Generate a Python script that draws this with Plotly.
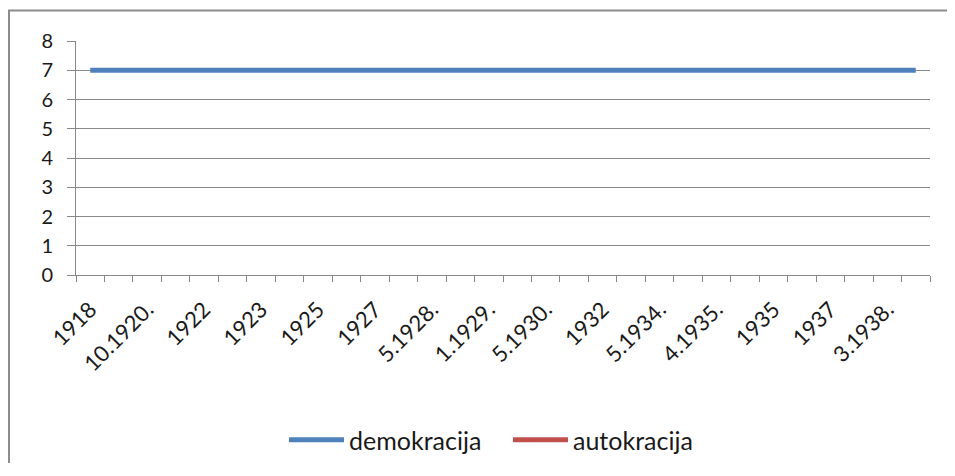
import plotly.graph_objects as go

categories = ["1918", "1919", "10.1920.", "1921", "1922", "3.1923.", "1923", "1924",
              "1925", "1926", "1927", "2.1928.", "5.1928.", "8.1928.", "1.1929.", "10.1929.",
              "5.1930.", "1931", "1932", "1933", "5.1934.", "12.1934.", "4.1935.", "6.1935.",
              "1935", "1936", "1937", "2.1938.", "3.1938.", "1939"]
demokracija = [7] * 30
autokracija = [None] * 30
tick_labels = [c if i % 2 == 0 else "" for i, c in enumerate(categories)]
y_ticks = [0, 1, 2, 3, 4, 5, 6, 7, 8]

FONT = "Lato"
fig = go.Figure()
fig.add_trace(go.Scatter(x=categories, y=demokracija, mode="lines", name="demokracija",
                         line=dict(color="#4F81BD", width=5)))
fig.add_trace(go.Scatter(x=categories, y=autokracija, mode="lines", name="autokracija",
                         line=dict(color="#C0504D", width=5)))

# the page body has an 8px margin: figure coordinates = window coordinates - 8
W, H = 947, 455
L, T = 68, 33
R = W - 922
B = H - 267
pw, ph = W - L - R, H - T - B

def px(x):
    return (x - L) / pw

def py(y):
    return (T + ph - y) / ph

fig.update_layout(
    width=W, height=H,
    margin=dict(l=L, r=R, t=T, b=B, autoexpand=False),
    paper_bgcolor="white", plot_bgcolor="white",
    font=dict(family=FONT, color="#1a1a1a"),
    showlegend=True,
    legend=dict(orientation="h", x=px(276), xanchor="left", y=py(432), yanchor="middle",
                font=dict(size=25, family=FONT), itemwidth=55, traceorder="normal",
                entrywidth=154, entrywidthmode="pixels",
                bgcolor="rgba(0,0,0,0)"),
    xaxis=dict(type="category", categoryorder="array", categoryarray=categories,
               tickmode="array", tickvals=categories, ticktext=tick_labels,
               tickson="boundaries", ticks="outside", ticklen=6, tickcolor="#888888",
               showgrid=False, showline=True, linecolor="#888888", linewidth=1,
               tickangle=-45, tickfont=dict(size=22, family=FONT), range=[-0.5, 29.5],
               ticklabelstandoff=12, automargin=False),
    yaxis=dict(range=[0, 8], tickvals=y_ticks, ticks="outside", ticklen=8, tickcolor="#888888",
               showgrid=True, gridcolor="#888888", gridwidth=1, showline=True,
               linecolor="#888888", linewidth=1, zeroline=False,
               tickfont=dict(size=20, family=FONT), ticklabelstandoff=10, automargin=False),
    shapes=[
        dict(type="line", xref="paper", yref="paper", x0=px(0), x1=px(W), y0=py(2.5), y1=py(2.5),
             line=dict(color="#8c8c8c", width=2), layer="below"),
        dict(type="line", xref="paper", yref="paper", x0=px(1), x1=px(1), y0=py(2.5), y1=py(H),
             line=dict(color="#8c8c8c", width=2), layer="below"),
    ],
)
fig.write_html("out.html")
